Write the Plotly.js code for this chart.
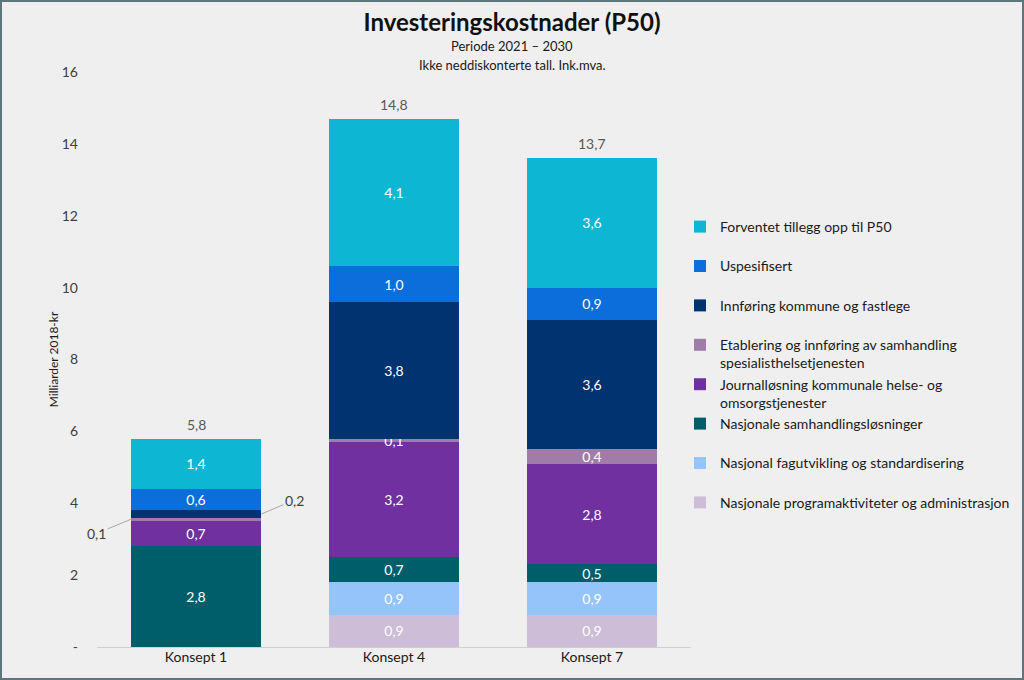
<!DOCTYPE html>
<html><head><meta charset="utf-8">
<script src="https://cdn.plot.ly/plotly-3.0.1.min.js"></script>
<style>
html,body{margin:0;padding:0;background:#efefef;}
#wrap{position:relative;width:1024px;height:680px;}
#chart{width:1024px;height:680px;}
#frame{position:absolute;left:0;top:0;width:1024px;height:680px;box-sizing:border-box;border:2px solid #5e7579;pointer-events:none;}
</style></head>
<body><div id="wrap"><div id="chart"></div><div id="frame"></div></div>
<script>
const categories = ['Konsept 1', 'Konsept 4', 'Konsept 7'];
const seriesNames = [
  'Nasjonale programaktiviteter og administrasjon',
  'Nasjonal fagutvikling og standardisering',
  'Nasjonale samhandlingsløsninger',
  'Journalløsning kommunale helse- og<br>omsorgstjenester',
  'Etablering og innføring av samhandling<br>spesialisthelsetjenesten',
  'Innføring kommune og fastlege',
  'Uspesifisert',
  'Forventet tillegg opp til P50'
];
const programaktiviteter = [0, 0.9, 0.9];
const fagutvikling = [0, 0.9, 0.9];
const samhandlingslosninger = [2.8, 0.7, 0.5];
const journallosning = [0.7, 3.2, 2.8];
const etablering = [0.1, 0.1, 0.4];
const innforing = [0.2, 3.8, 3.6];
const uspesifisert = [0.6, 1.0, 0.9];
const forventet = [1.4, 4.1, 3.6];
const totals = [5.8, 14.8, 13.7];
const yTickVals = [0, 2, 4, 6, 8, 10, 12, 14, 16];
const yTickText = ['-', '2', '4', '6', '8', '10', '12', '14', '16'];

const colors = ['#CDBDD7', '#94C4FA', '#005E6B', '#7030A0', '#A07DA9', '#00336F', '#0B6EDA', '#0DB7D3'];
const seriesValues = [programaktiviteter, fagutvikling, samhandlingslosninger, journallosning, etablering, innforing, uspesifisert, forventet];

const FONT = 'Lato, "Open Sans", sans-serif';
const fmt = v => v.toFixed(1).replace('.', ',');

// labels drawn outside with leader lines (Konsept 1 small segments)
const outsideLabels = {4: [0], 5: [0]};

const traces = seriesValues.map((vals, i) => ({
  type: 'bar',
  name: seriesNames[i] + (seriesNames[i].includes('<br>') ? '' : '<br>&nbsp;'),
  x: categories,
  y: vals,
  marker: {color: colors[i], line: {width: 0}},
  text: vals.map((v, j) => (v === 0 || (outsideLabels[i] && outsideLabels[i].includes(j))) ? '' : fmt(v)),
  textposition: 'inside',
  insidetextanchor: 'middle',
  constraintext: 'none',
  textangle: 0,
  textfont: {color: '#ffffff', size: 14, family: FONT},
  hoverinfo: 'x+y+name'
}));

const stackSum = categories.map((c, j) => seriesValues.reduce((s, arr) => s + arr[j], 0));
const cum = (upto, j) => seriesValues.slice(0, upto).reduce((s, arr) => s + arr[j], 0);

const annotations = [];
categories.forEach((c, j) => {
  annotations.push({
    x: c, y: stackSum[j], xref: 'x', yref: 'y',
    text: fmt(totals[j]), showarrow: false, yanchor: 'bottom', yshift: 4,
    font: {size: 14, color: '#595959', family: FONT}
  });
});
annotations.push({
  x: -0.33, y: cum(4, 0) + etablering[0] / 2, xref: 'x', yref: 'y',
  text: fmt(etablering[0]), showarrow: true, arrowhead: 0, arrowwidth: 1, arrowcolor: '#a6a6a6',
  ax: -34, ay: 14, font: {size: 14, color: '#404040', family: FONT}
});
annotations.push({
  x: 0.33, y: cum(5, 0) + innforing[0] / 2, xref: 'x', yref: 'y',
  text: fmt(innforing[0]), showarrow: true, arrowhead: 0, arrowwidth: 1, arrowcolor: '#a6a6a6',
  ax: 33, ay: -14, font: {size: 14, color: '#404040', family: FONT}
});
// subtitle lines (centred on the page)
const subtitleLines = ['Periode 2021 – 2030', 'Ikke neddiskonterte tall. Ink.mva.'];
subtitleLines.forEach((t, k) => {
  annotations.push({
    xref: 'paper', yref: 'paper', x: (512 - 97) / 594, y: 1, text: t,
    showarrow: false, xanchor: 'center', yanchor: 'middle', yshift: 26 - 19 * k,
    font: {size: 13, color: '#1a1a1a', family: FONT}
  });
});

const layout = {
  width: 1024, height: 680,
  paper_bgcolor: '#efefef', plot_bgcolor: '#efefef',
  separators: ', ',
  font: {family: FONT, color: '#404040', size: 14},
  title: {text: '<b>Investeringskostnader (P50)</b>', x: 0.5, xref: 'container', xanchor: 'center',
          y: 0.967, yanchor: 'middle', font: {size: 24, color: '#111111', family: FONT}},
  barmode: 'stack',
  bargap: 0.34,
  margin: {l: 97, r: 333, t: 72, b: 33, autoexpand: false},
  xaxis: {type: 'category', range: [-0.5, 2.5], autorange: false, showgrid: false, showline: false,
          zeroline: false, ticks: '',
          tickfont: {size: 14, color: '#1a1a1a'}, fixedrange: true, automargin: false},
  yaxis: {range: [0, 16], autorange: false, tickvals: yTickVals, ticktext: yTickText, showgrid: false, zeroline: true,
          zerolinecolor: '#d0d0d0', zerolinewidth: 1, showline: false, ticks: '', ticklabelstandoff: 18,
          automargin: false,
          tickfont: {size: 14, color: '#404040'},
          title: {text: 'Milliarder 2018-kr', font: {size: 12, color: '#1a1a1a'}, standoff: 0}},
  legend: {x: (680 - 97) / 594, xanchor: 'left', y: (647 - 211) / 575, yanchor: 'top', traceorder: 'reversed',
           valign: 'top', bgcolor: 'rgba(0,0,0,0)', font: {size: 14, color: '#1a1a1a'},
           itemwidth: 30, tracegroupgap: 2},
  annotations: annotations,
  showlegend: true
};

Plotly.newPlot('chart', traces, layout, {displayModeBar: false, staticPlot: true});
</script></body></html>
